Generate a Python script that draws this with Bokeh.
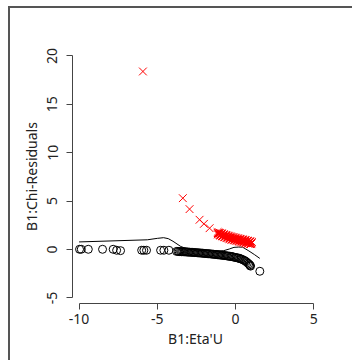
from bokeh.plotting import figure
from bokeh.models import Range1d, FixedTicker
from bokeh.embed import file_html
from bokeh.resources import INLINE

# ---- data ----
x_ticks = [-10, -5, 0, 5]
y_ticks = [-5, 0, 5, 10, 15, 20]
x_tick_labels = {-10: "-10", -5: "-5", 0: "0", 5: "5"}
y_tick_labels = {-5: "-5", 0: "0", 5: "5", 10: "10", 15: "15", 20: "20"}

# red crosses (positive residuals): sparse ones
red_x_sparse = [-5.92, -3.37, -2.94, -2.30, -2.02, -1.66, -1.13, -0.92]
red_y_sparse = [18.39, 5.30, 4.17, 3.07, 2.65, 2.20, 1.69, 1.62]
# dense cluster, first group
red_x_a = [-1.15, -1.10, -1.05, -1.00, -0.95, -0.90, -0.85, -0.80, -0.75, -0.70,
           -0.65, -0.60, -0.55, -0.50, -0.45, -0.40, -0.35, -0.30, -0.25, -0.20,
           -0.15, -0.10, -0.05, 0.00, 0.05, 0.10, 0.15, 0.20, 0.25, 0.30,
           0.35, 0.40, 0.45, 0.50, 0.55, 0.60, 0.65, 0.70, 0.75, 0.80,
           0.85, 0.90, 0.95, 1.00, 1.05]
red_y_a = [1.80, 1.62, 1.75, 1.70, 1.50, 1.68, 1.60, 1.42, 1.58, 1.52,
           1.33, 1.50, 1.45, 1.25, 1.42, 1.38, 1.18, 1.35, 1.30, 1.10,
           1.28, 1.25, 1.03, 1.22, 1.18, 0.98, 1.16, 1.12, 0.92, 1.10,
           1.06, 0.86, 1.04, 1.00, 0.80, 0.98, 0.95, 0.74, 0.92, 0.88,
           0.68, 0.86, 0.82, 0.62, 0.78]
# dense cluster, second group
red_x_b = [-1.125, -1.075, -1.025, -0.975, -0.925, -0.875, -0.825, -0.775, -0.725, -0.675,
           -0.625, -0.575, -0.525, -0.475, -0.425, -0.375, -0.325, -0.275, -0.225, -0.175,
           -0.125, -0.075, -0.025, 0.025, 0.075, 0.125, 0.175, 0.225, 0.275, 0.325,
           0.375, 0.425, 0.475, 0.525, 0.575, 0.625, 0.675, 0.725, 0.775, 0.825,
           0.875, 0.925, 0.975, 1.025]
red_y_b = [1.55, 1.66, 1.48, 1.44, 1.56, 1.38, 1.34, 1.46, 1.28, 1.26,
           1.37, 1.20, 1.17, 1.28, 1.11, 1.08, 1.20, 1.03, 1.01, 1.12,
           0.97, 0.95, 1.06, 0.91, 0.89, 1.00, 0.85, 0.83, 0.94, 0.79,
           0.77, 0.88, 0.73, 0.71, 0.82, 0.67, 0.66, 0.76, 0.61, 0.60,
           0.70, 0.56, 0.55, 0.64]

# black circles (negative residuals)
blk_x = [-9.97, -9.86, -9.41, -8.50, -7.82, -7.60, -7.35, -6.00, -5.86, -5.69,
         -4.79, -4.58, -4.26,
         -3.77, -3.68, -3.60, -3.52, -3.45, -3.38, -3.30, -3.22, -3.15, -3.08,
         -3.00, -2.92, -2.84, -2.76, -2.68, -2.60, -2.52, -2.44, -2.36, -2.28,
         -2.20, -2.12, -2.04, -1.96, -1.88, -1.80, -1.72, -1.64, -1.56, -1.48,
         -1.40, -1.32, -1.24, -1.16, -1.08, -1.00, -0.92, -0.84, -0.76, -0.68,
         -0.60, -0.52, -0.44, -0.36, -0.28, -0.20, -0.12, -0.04, 0.04, 0.12,
         0.20, 0.28, 0.36, 0.44, 0.52, 0.60, 0.68, 0.76, 0.84, 0.90,
         0.96, 0.93, 1.55]
blk_y = [0.02, 0.02, 0.02, 0.02, 0.02, -0.08, -0.12, -0.08, -0.08, -0.08,
         -0.08, -0.08, -0.08,
         -0.20, -0.19, -0.22, -0.21, -0.23, -0.22, -0.24, -0.25, -0.24, -0.27,
         -0.27, -0.28, -0.29, -0.30, -0.31, -0.32, -0.33, -0.34, -0.35, -0.36,
         -0.37, -0.38, -0.40, -0.41, -0.42, -0.43, -0.44, -0.45, -0.47, -0.48,
         -0.49, -0.51, -0.52, -0.54, -0.55, -0.57, -0.58, -0.60, -0.62, -0.63,
         -0.65, -0.67, -0.69, -0.71, -0.73, -0.75, -0.78, -0.81, -0.84, -0.87,
         -0.90, -0.94, -0.99, -1.04, -1.10, -1.17, -1.26, -1.37, -1.48, -1.58,
         -1.72, -1.66, -2.25]

# smooth line
line_x = [-10.0, -5.64, -5.0, -4.6, -4.3, -4.0, -3.5, -3.1, -2.5, -2.0,
          -1.5, -1.0, -0.75, -0.4, -0.1, 0.2, 0.45, 0.85, 1.2, 1.55]
line_y = [0.78, 1.0, 1.15, 1.22, 1.12, 0.85, 0.31, 0.07, -0.05, -0.10,
          -0.13, -0.15, -0.12, 0.05, 0.22, 0.25, 0.24, -0.15, -0.52, -0.92]

FONT = "Noto Sans"
AX = "#444444"

p = figure(width=344, height=354,
           x_range=Range1d(-10.42, 5.30), y_range=Range1d(-5.58, 20.66),
           output_backend="svg", toolbar_location=None,
           min_border_left=62, min_border_right=36,
           min_border_top=41, min_border_bottom=59)
p.margin = (6, 0, 0, 8)
p.styles = {"border-left": "2px solid #555555", "border-top": "2px solid #555555"}
p.outline_line_color = None
p.grid.visible = False
p.background_fill_color = "white"
p.border_fill_color = "white"

p.line(line_x, line_y, line_color="black", line_width=1)
p.scatter(blk_x, blk_y, marker="circle", size=8, fill_color=None,
          line_color="black", line_width=1)
p.scatter(red_x_sparse, red_y_sparse, marker="x", size=11, line_color="#ff0000", line_width=1)
p.scatter(red_x_a, red_y_a, marker="x", size=11, line_color="#ff0000", line_width=1)
p.scatter(red_x_b, red_y_b, marker="x", size=11, line_color="#ff0000", line_width=1)

for ax, ticks, bnds, labs in ((p.xaxis, x_ticks, (-10, 5), x_tick_labels),
                              (p.yaxis, y_ticks, (-5, 20), y_tick_labels)):
    ax.ticker = FixedTicker(ticks=ticks)
    ax.major_label_overrides = labs
    ax.bounds = bnds
    ax.axis_line_color = AX
    ax.major_tick_line_color = AX
    ax.minor_tick_line_color = None
    ax.major_tick_out = 6
    ax.major_tick_in = 0
    ax.major_label_text_font = FONT
    ax.major_label_text_font_size = "14px"
    ax.major_label_text_color = "#222222"
    ax.axis_label_text_font = FONT
    ax.axis_label_text_font_size = "14px"
    ax.axis_label_text_font_style = "normal"
    ax.axis_label_text_color = "#222222"

p.xaxis.axis_label = "B1:Eta'U"
p.yaxis.axis_label = "B1:Chi-Residuals"
p.yaxis.major_label_orientation = "vertical"
p.xaxis.major_label_standoff = 4
p.yaxis.major_label_standoff = 9
p.xaxis.axis_label_standoff = 2
p.yaxis.axis_label_standoff = 4

open("out.html", "w").write(file_html(p, INLINE))
